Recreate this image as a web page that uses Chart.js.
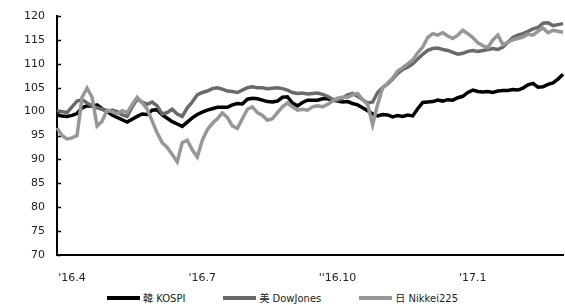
<!DOCTYPE html>
<html>
<head>
<meta charset="utf-8">
<script src="https://cdn.jsdelivr.net/npm/chart.js@4.4.0/dist/chart.umd.min.js"></script>
<style>
  body { margin: 0; background: #fff; }
  #wrap { position: relative; width: 565px; height: 308px; }
  #box { position: absolute; left: 0; top: 0; width: 565px; height: 283px; }
  #legend { position: absolute; left: 0; top: 290px; width: 565px; display: flex; justify-content: center;
            font: 10px "DejaVu Sans", "Noto Sans CJK KR", sans-serif; color: #222; }
  .item { display: flex; align-items: center; margin: 0 19px; }
  .line { display: inline-block; width: 33px; height: 4px; margin-right: 3px; }
</style>
</head>
<body>
<div id="wrap">
  <div id="box"><canvas id="indexChart"></canvas></div>
  <div id="legend"></div>
</div>
<script>
// series names / colours
const seriesNames  = ["韓 KOSPI", "美 DowJones", "日 Nikkei225"];
const seriesColors = ["#000000", "#6a6a6a", "#979797"];

// x-axis labels and the sample index they sit on
const tickLabels = ["'16.4", "'16.7", "''16.10", "'17.1"];
const tickIdx    = [3, 29, 56, 83];

// y-axis
const yMin = 70, yMax = 120, yStep = 5;

// values (index, base = 100)
const kospi = [
  99.3, 99.1, 99.0, 99.2, 99.6, 100.8, 101.2, 101.1, 101.4, 100.6,
  100.0, 99.3, 98.8, 98.3, 97.8, 98.4, 99.0, 99.5, 99.4, 100.3,
  100.4, 99.3, 98.6, 97.9, 97.4, 96.9, 97.8, 98.7, 99.4, 99.9,
  100.3, 100.6, 100.9, 100.9, 100.9, 101.4, 101.7, 101.6, 102.6, 102.8,
  102.7, 102.4, 102.1, 102.0, 102.2, 103.0, 103.1, 101.8, 101.2, 101.9,
  102.4, 102.4, 102.4, 102.7, 102.7, 102.4, 102.2, 102.0, 102.1, 101.7,
  101.4, 100.8, 100.2, 99.5, 99.1, 99.4, 99.3, 98.9, 99.2, 99.0,
  99.3, 99.1, 100.6, 101.9, 102.0, 102.1, 102.4, 102.2, 102.5, 102.4,
  102.9, 103.2, 104.0, 104.5, 104.2, 104.1, 104.2, 104.0, 104.3, 104.4,
  104.4, 104.6, 104.5, 104.9, 105.6, 105.9, 105.1, 105.2, 105.7, 106.0,
  106.8, 107.8
];
const dowJones = [
  100.2, 100.0, 99.8, 101.0, 102.2, 102.5, 101.8, 101.2, 100.8, 100.5,
  100.0, 100.3, 100.0, 99.3, 99.0, 101.0, 102.6, 102.0, 101.5, 102.0,
  101.2, 99.5, 99.8, 100.5, 99.5, 99.0, 100.8, 102.0, 103.5, 104.0,
  104.3, 104.8, 105.0, 104.7, 104.3, 104.2, 104.0, 104.5, 105.0, 105.2,
  105.0, 105.0, 104.8, 104.9, 105.0, 104.8, 104.5, 104.0, 103.8, 103.9,
  103.7, 103.8, 103.9, 103.6, 103.2, 102.6, 102.4, 102.8, 103.5, 103.8,
  103.2, 102.5, 101.8, 102.0, 104.0, 105.0, 105.8, 106.8, 108.0, 108.8,
  109.3, 110.0, 111.0, 112.0, 112.8, 113.2, 113.3, 113.0, 112.8, 112.4,
  112.0, 112.2, 112.6, 112.8, 112.6, 112.8, 113.0, 113.2, 113.0, 113.5,
  114.5, 115.5, 116.0, 116.3, 116.8, 117.3, 117.6, 118.5, 118.6, 118.0,
  118.2, 118.4
];
const nikkei = [
  96.6, 95.0, 94.3, 94.5, 95.0, 103.0, 104.9, 103.0, 97.0, 98.0,
  100.3, 100.0, 99.5, 100.2, 99.8, 101.5, 103.0, 101.8, 100.5, 98.0,
  95.5, 93.5, 92.5, 91.0, 89.5, 93.5, 94.0, 92.0, 90.5, 94.0,
  96.2, 97.5, 98.5, 99.7, 98.8, 97.0, 96.5, 98.5, 100.5, 101.0,
  99.8, 99.2, 98.2, 98.5, 99.8, 101.0, 101.8, 101.0, 100.3, 100.5,
  100.3, 101.0, 101.2, 101.0, 101.5, 102.2, 102.8, 103.0, 103.0, 103.5,
  103.8, 102.5, 101.5, 97.2, 101.5, 105.0, 106.0, 107.0, 108.5, 109.2,
  110.0, 110.8, 112.3, 113.5, 115.5, 116.3, 116.0, 116.5, 115.8, 115.3,
  116.0, 117.0, 116.3, 115.5, 114.4, 113.8, 113.4, 115.0, 116.0, 114.0,
  114.5, 115.0, 115.3, 115.6, 116.2, 116.0, 116.8, 117.5, 116.5, 117.0,
  116.8, 116.6
];

const series = [kospi, dowJones, nikkei];
const fontFamily = "'DejaVu Sans', 'Noto Sans CJK KR', sans-serif";

// small tick marks pointing into the plot on the y axis
const innerTicks = {
  id: "innerTicks",
  beforeDatasetsDraw(chart) {
    const y = chart.scales.y, ctx = chart.ctx;
    ctx.save();
    ctx.strokeStyle = "#000";
    ctx.lineWidth = 1.5;
    y.ticks.forEach(t => {
      const py = Math.round(y.getPixelForValue(t.value)) + 0.5;
      ctx.beginPath();
      ctx.moveTo(y.right, py);
      ctx.lineTo(y.right + 4, py);
      ctx.stroke();
    });
    ctx.restore();
  }
};

const canvas = document.getElementById("indexChart");
new Chart(canvas.getContext("2d"), {
  type: "line",
  data: {
    labels: kospi.map((_, i) => i),
    datasets: series.map((d, i) => ({
      label: seriesNames[i],
      data: d,
      borderColor: seriesColors[i],
      backgroundColor: seriesColors[i],
      borderWidth: 3.5,
      pointRadius: 0,
      tension: 0,
      order: series.length - i
    }))
  },
  options: {
    responsive: true,
    maintainAspectRatio: false,
    animation: false,
    layout: { padding: { top: 16, right: 2, left: 0, bottom: 0 } },
    plugins: { legend: { display: false }, tooltip: { enabled: false } },
    scales: {
      x: {
        grid: { display: false },
        border: { color: "#000", width: 2 },
        afterFit: s => { s.height = 28; },
        ticks: {
          autoSkip: false,
          maxRotation: 0,
          padding: 9,
          color: "#222",
          font: { family: fontFamily, size: 11 },
          callback: (v, idx) => {
            const k = tickIdx.indexOf(idx);
            return k >= 0 ? tickLabels[k] : null;
          }
        }
      },
      y: {
        min: yMin,
        max: yMax,
        grid: { display: false },
        border: { color: "#000", width: 2 },
        afterFit: s => { s.width = 57; },
        ticks: {
          stepSize: yStep,
          padding: 4,
          color: "#222",
          font: { family: fontFamily, size: 11 }
        }
      }
    }
  },
  plugins: [innerTicks]
});

// legend under the chart
const legend = document.getElementById("legend");
seriesNames.forEach((name, i) => {
  const item = document.createElement("span");
  item.className = "item";
  const ln = document.createElement("span");
  ln.className = "line";
  ln.style.background = seriesColors[i];
  item.appendChild(ln);
  item.appendChild(document.createTextNode(name));
  legend.appendChild(item);
});
</script>
</body>
</html>
